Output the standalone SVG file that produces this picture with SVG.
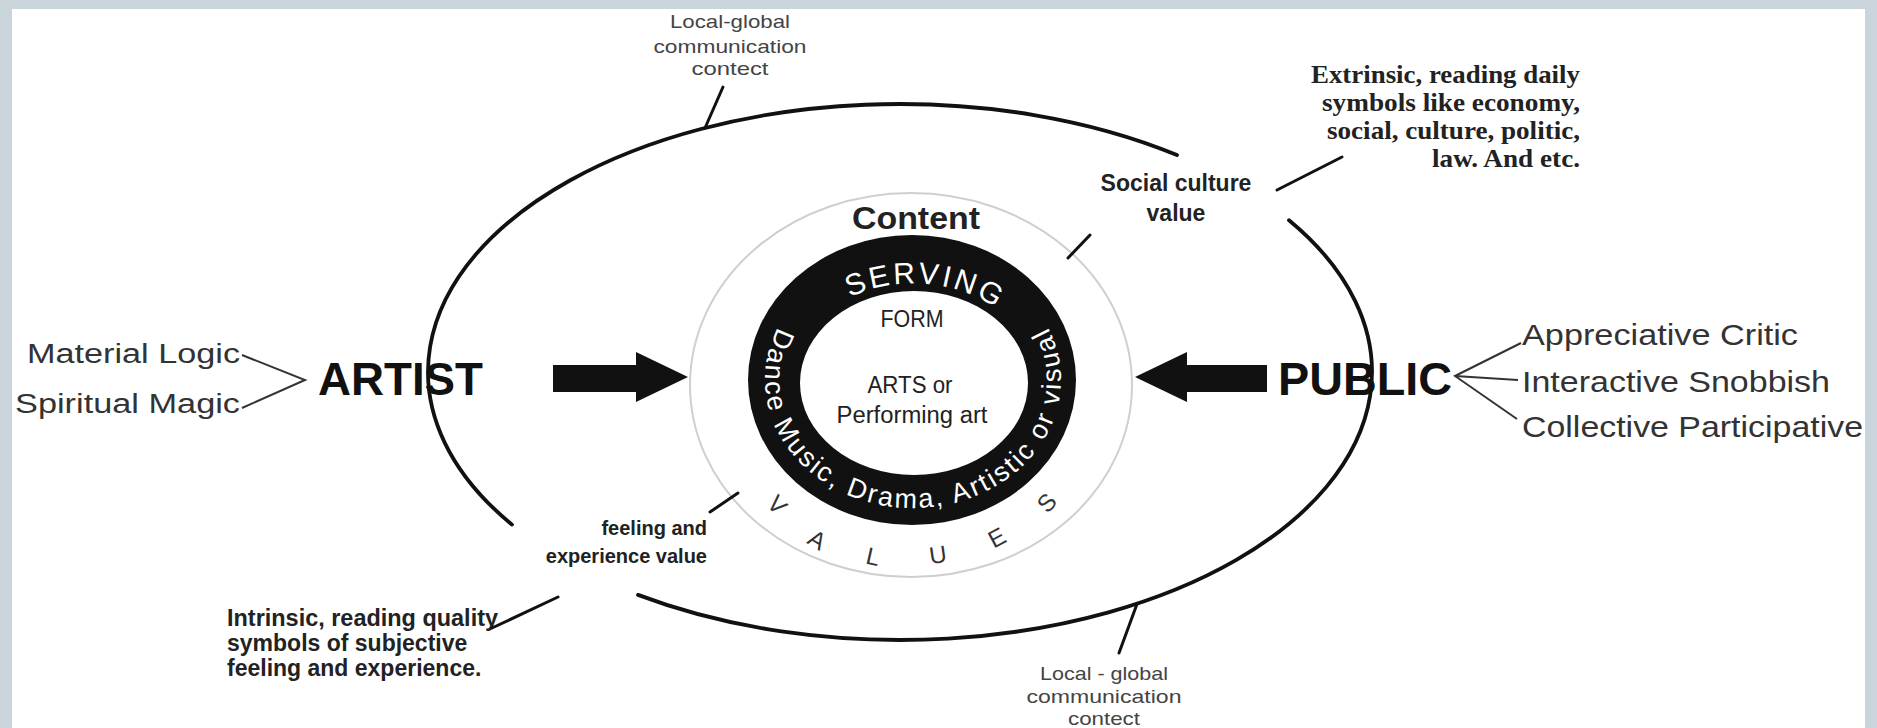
<svg xmlns="http://www.w3.org/2000/svg" width="1877" height="728" viewBox="0 0 1877 728">
<defs>
<style>
.s{font-family:"Liberation Sans",Arial,sans-serif}
.b{font-weight:bold}
.ser{font-family:"Liberation Serif","Times New Roman",serif;font-weight:bold;fill:#222}
.grey{fill:#444}
.dark{fill:#222}
.mid{text-anchor:middle}
.end{text-anchor:end}
.ln{stroke:#111;stroke-width:3;fill:none;stroke-linecap:round}
.fan{stroke:#333;stroke-width:2;fill:none;stroke-linejoin:miter}
.oval{stroke:#111;stroke-width:3.8;fill:none;stroke-linecap:round}
.wt{fill:#fff;font-family:"Liberation Sans",Arial,sans-serif}
.val{font-family:"Liberation Sans",Arial,sans-serif;font-size:24px;fill:#333;text-anchor:middle}
</style>
<path id="ringPath" d="M778.87,325.91 A148,128 0 1 0 1046.02,323.89"/>
<path id="servPath" d="M800.5,340 A126,102 0 0 1 1036,362"/>
</defs>
<rect x="0" y="0" width="1877" height="728" fill="#fff"/>
<g id="frame" fill="#c9d4db">
<rect x="0" y="0" width="1877" height="9"/>
<rect x="0" y="0" width="12" height="728"/>
<rect x="1865" y="0" width="12" height="728"/>
</g>

<g id="outer-context">
<path class="oval" d="M1289,220.2 A472,268 0 0 1 638,594.9"/>
<path class="oval" d="M512,524.6 A472,268 0 0 1 1177,155"/>
</g>

<g id="values-circle">
<ellipse cx="911" cy="385" rx="221" ry="192" fill="none" stroke="#cfcfcf" stroke-width="2"/>
<text class="val" transform="translate(777,505) rotate(47.6)" y="8">V</text>
<text class="val" transform="translate(817,540) rotate(31)" y="8">A</text>
<text class="val" transform="translate(873,557) rotate(12.8)" y="8">L</text>
<text class="val" transform="translate(938,555) rotate(-8.2)" y="8">U</text>
<text class="val" transform="translate(997,538) rotate(-28.1)" y="8">E</text>
<text class="val" transform="translate(1047,503) rotate(-47.7)" y="8">S</text>
</g>

<g id="content-ring">
<ellipse cx="912" cy="380" rx="164" ry="145" fill="#111"/>
<ellipse cx="914" cy="383" rx="114" ry="92" fill="#fff"/>
<text class="wt" font-size="30" letter-spacing="3"><textPath href="#servPath" startOffset="50%" text-anchor="middle">SERVING</textPath></text>
<text class="wt" font-size="27" letter-spacing="2.4"><textPath href="#ringPath" startOffset="50%" text-anchor="middle">Dance Music, Drama, Artistic or visual</textPath></text>
</g>

<g id="content-label">
<text class="s b dark mid" x="916" y="229" font-size="31" textLength="128" lengthAdjust="spacingAndGlyphs">Content</text>
</g>

<g id="form">
<text class="s dark mid" x="912" y="327" font-size="23" textLength="63" lengthAdjust="spacingAndGlyphs">FORM</text>
<text class="s dark mid" x="910" y="393" font-size="23" textLength="85" lengthAdjust="spacingAndGlyphs">ARTS or</text>
<text class="s dark mid" x="912" y="423" font-size="23" textLength="151" lengthAdjust="spacingAndGlyphs">Performing art</text>
</g>

<g id="artist">
<text class="s b" x="318" y="395" font-size="46" fill="#111" textLength="165" lengthAdjust="spacingAndGlyphs">ARTIST</text>
<text class="s end" x="240" y="363" font-size="27" fill="#333" textLength="213" lengthAdjust="spacingAndGlyphs">Material Logic</text>
<text class="s end" x="240" y="413" font-size="27" fill="#333" textLength="225" lengthAdjust="spacingAndGlyphs">Spiritual Magic</text>
<polygon points="553,365 636,365 636,352 688,377 636,402 636,392 553,392" fill="#111"/>
</g>

<g id="public">
<text class="s b" x="1278" y="395" font-size="46" fill="#111" textLength="174" lengthAdjust="spacingAndGlyphs">PUBLIC</text>
<text class="s" x="1522" y="345" font-size="29" fill="#333" textLength="276" lengthAdjust="spacingAndGlyphs">Appreciative Critic</text>
<text class="s" x="1522" y="392" font-size="29" fill="#333" textLength="308" lengthAdjust="spacingAndGlyphs">Interactive Snobbish</text>
<text class="s" x="1522" y="437" font-size="29" fill="#333" textLength="341" lengthAdjust="spacingAndGlyphs">Collective Participative</text>
<polygon points="1267,365 1187,365 1187,352 1135,377 1187,402 1187,392 1267,392" fill="#111"/>
</g>

<g id="social-culture-value">
<text class="s b dark mid" x="1176" y="191" font-size="23">Social culture</text>
<text class="s b dark mid" x="1176" y="221" font-size="23">value</text>
</g>

<g id="extrinsic">
<text class="ser end" x="1580" y="83" font-size="26" textLength="269" lengthAdjust="spacingAndGlyphs">Extrinsic, reading daily</text>
<text class="ser end" x="1580" y="111" font-size="26" textLength="258" lengthAdjust="spacingAndGlyphs">symbols like economy,</text>
<text class="ser end" x="1580" y="139" font-size="26" textLength="253" lengthAdjust="spacingAndGlyphs">social, culture, politic,</text>
<text class="ser end" x="1580" y="167" font-size="26" textLength="148" lengthAdjust="spacingAndGlyphs">law. And etc.</text>
</g>

<g id="feeling-experience-value">
<text class="s b dark end" x="707" y="535" font-size="20">feeling and</text>
<text class="s b dark end" x="707" y="563" font-size="20">experience value</text>
</g>

<g id="intrinsic">
<text class="s b dark" x="227" y="626" font-size="23" textLength="271" lengthAdjust="spacingAndGlyphs">Intrinsic, reading quality</text>
<text class="s b dark" x="227" y="651" font-size="23">symbols of subjective</text>
<text class="s b dark" x="227" y="676" font-size="23">feeling and experience.</text>
</g>

<g id="local-global-top">
<text class="s grey mid" x="730" y="28" font-size="19" textLength="120" lengthAdjust="spacingAndGlyphs">Local-global</text>
<text class="s grey mid" x="730" y="53" font-size="19" textLength="153" lengthAdjust="spacingAndGlyphs">communication</text>
<text class="s grey mid" x="730" y="75" font-size="19" textLength="77" lengthAdjust="spacingAndGlyphs">contect</text>
</g>

<g id="local-global-bottom">
<text class="s grey mid" x="1104" y="680" font-size="19" textLength="128" lengthAdjust="spacingAndGlyphs">Local - global</text>
<text class="s grey mid" x="1104" y="703" font-size="19" textLength="155" lengthAdjust="spacingAndGlyphs">communication</text>
<text class="s grey mid" x="1104" y="725" font-size="19" textLength="72" lengthAdjust="spacingAndGlyphs">contect</text>
</g>

<g id="connectors">
<line class="ln" x1="705" y1="128" x2="723" y2="87"/>
<line class="ln" x1="1137" y1="604" x2="1119" y2="653"/>
<line class="ln" x1="1277" y1="190" x2="1342" y2="157"/>
<line class="ln" x1="1068" y1="258" x2="1090" y2="235"/>
<line class="ln" x1="710" y1="512" x2="738" y2="493"/>
<line class="ln" x1="492" y1="628" x2="558" y2="597"/>
<polyline class="fan" points="242,355 305,380 242,408"/>
<polyline class="fan" points="1521,343 1455,376 1517,419"/>
<line class="fan" x1="1455" y1="376" x2="1518" y2="380"/>
</g>
</svg>
